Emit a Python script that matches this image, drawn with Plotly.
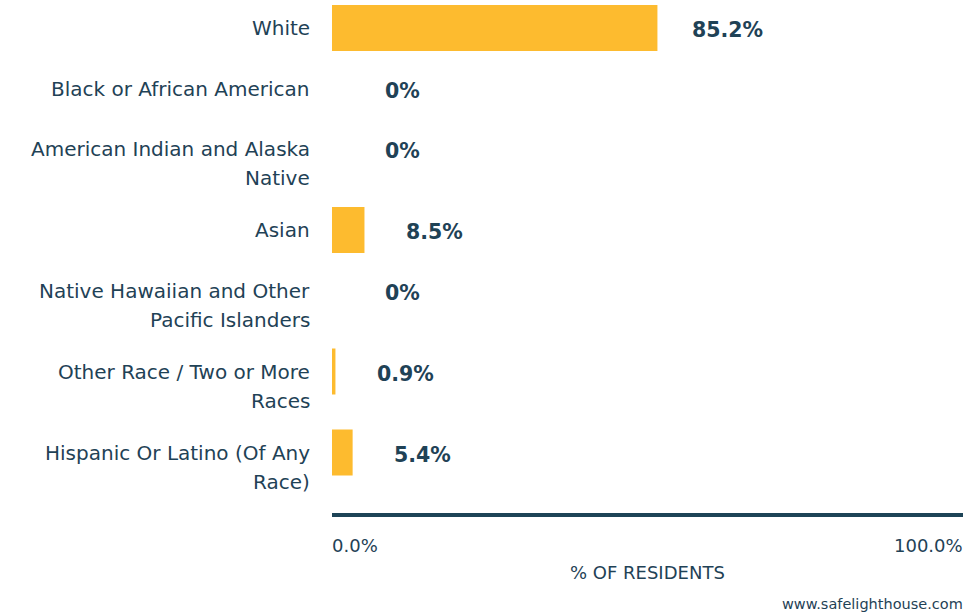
import plotly.graph_objects as go

categories = [
    "White",
    "Black or African American",
    "American Indian and Alaska<br>Native",
    "Asian",
    "Native Hawaiian and Other<br>Pacific Islanders",
    "Other Race / Two or More<br>Races",
    "Hispanic Or Latino (Of Any<br>Race)",
]
values = [85.2, 0, 0, 8.5, 0, 0.9, 5.4]
value_labels = ["85.2%", "0%", "0%", "8.5%", "0%", "0.9%", "5.4%"]
axis_tick_labels = ["0.0%", "100.0%"]
axis_title = "% OF RESIDENTS"
source_text = "www.safelighthouse.com"

BAR_COLOR = "#FDBB2F"
TEXT_COLOR = "#1F4256"
FONT = "DejaVu Sans"

W, H = 980, 613
M_L, M_R, M_T, M_B = 332, 17, 0, 100
PLOT_H = H - M_T - M_B

# layout: vertical positions (pixel-like units) derived from number of label lines
LINE_H = 29
row_pos = []
y = 28
for c in categories:
    row_pos.append(y)
    n = c.count("<br>") + 1
    y += 40 + 20.5 * n

X_MAX = 165.2  # axis span so that bars scale like the reference


def py(px):
    """pixel from top -> paper y"""
    return 1 - (px - M_T) / PLOT_H


fig = go.Figure()
fig.add_trace(go.Bar(
    x=values, y=row_pos, orientation="h",
    marker=dict(color=BAR_COLOR, line=dict(width=0)),
    width=46, hoverinfo="skip",
))

ann = []
for c, yp, v, lab in zip(categories, row_pos, values, value_labels):
    for i, line in enumerate(c.split("<br>")):
        ann.append(dict(x=0, xref="paper", y=yp + i * LINE_H, yref="y",
                        text=line, showarrow=False, xanchor="right", yanchor="middle",
                        xshift=-20, font=dict(family=FONT, size=20, color=TEXT_COLOR)))
    ann.append(dict(x=v, xref="x", y=yp + 2, yref="y", text="<b>" + lab + "</b>",
                    showarrow=False, xanchor="center", yanchor="middle", xshift=70,
                    font=dict(family=FONT, size=20.5, color=TEXT_COLOR)))

ann.append(dict(x=0, xref="paper", y=py(545), yref="paper", text=axis_tick_labels[0],
                showarrow=False, xanchor="left", yanchor="middle", xshift=-2,
                font=dict(family=FONT, size=18, color=TEXT_COLOR)))
ann.append(dict(x=1, xref="paper", y=py(545), yref="paper", text=axis_tick_labels[1],
                showarrow=False, xanchor="right", yanchor="middle", xshift=2,
                font=dict(family=FONT, size=18, color=TEXT_COLOR)))
ann.append(dict(x=0.5, xref="paper", y=py(572), yref="paper", text=axis_title,
                showarrow=False, xanchor="center", yanchor="middle",
                font=dict(family=FONT, size=18, color=TEXT_COLOR)))
ann.append(dict(x=1, xref="paper", y=py(604), yref="paper", text=source_text,
                showarrow=False, xanchor="right", yanchor="middle", xshift=2,
                font=dict(family=FONT, size=14.5, color=TEXT_COLOR)))

fig.update_layout(
    width=W, height=H,
    margin=dict(l=M_L, r=M_R, t=M_T, b=M_B),
    paper_bgcolor="white", plot_bgcolor="white",
    showlegend=False,
    annotations=ann,
    xaxis=dict(range=[0, X_MAX], showgrid=False, zeroline=False, showticklabels=False,
               showline=True, linecolor="#1D4457", linewidth=4, ticks="", fixedrange=True),
    yaxis=dict(range=[513, 0], showgrid=False, zeroline=False, showticklabels=False,
               showline=False, ticks="", fixedrange=True),
)

fig.write_html("out.html", config=dict(displayModeBar=False),
               post_script="document.body.style.margin='0';document.body.style.overflow='hidden';")
